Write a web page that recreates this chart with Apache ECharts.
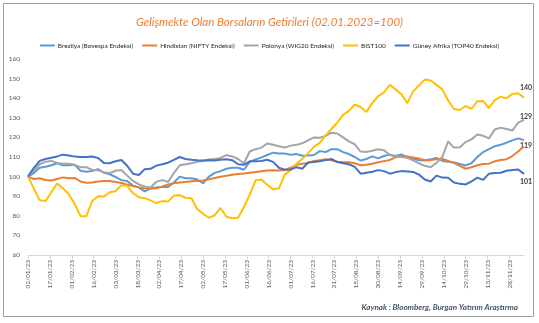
<!DOCTYPE html>
<html>
<head>
<meta charset="utf-8">
<script src="https://cdn.jsdelivr.net/npm/echarts@6/dist/echarts.min.js"></script>
<style>
html,body{margin:0;padding:0;background:#fff;}
#chart{width:539px;height:323px;}
</style>
</head>
<body>
<div id="chart"></div>
<script>
// ---- data ----
const dates = [
'2023-01-02','2023-01-06','2023-01-10','2023-01-14','2023-01-18','2023-01-22','2023-01-26','2023-01-30',
'2023-02-03','2023-02-07','2023-02-11','2023-02-15','2023-02-19','2023-02-23','2023-02-27',
'2023-03-03','2023-03-07','2023-03-11','2023-03-15','2023-03-19','2023-03-23','2023-03-27','2023-03-31',
'2023-04-04','2023-04-08','2023-04-12','2023-04-16','2023-04-20','2023-04-24','2023-04-28',
'2023-05-02','2023-05-06','2023-05-10','2023-05-14','2023-05-18','2023-05-22','2023-05-26','2023-05-30',
'2023-06-03','2023-06-07','2023-06-11','2023-06-15','2023-06-19','2023-06-23','2023-06-27',
'2023-07-01','2023-07-05','2023-07-09','2023-07-13','2023-07-17','2023-07-21','2023-07-25','2023-07-29',
'2023-08-02','2023-08-06','2023-08-10','2023-08-14','2023-08-18','2023-08-22','2023-08-26','2023-08-30',
'2023-09-03','2023-09-07','2023-09-11','2023-09-15','2023-09-19','2023-09-23','2023-09-27',
'2023-10-01','2023-10-05','2023-10-09','2023-10-13','2023-10-17','2023-10-21','2023-10-25','2023-10-29',
'2023-11-02','2023-11-06','2023-11-10','2023-11-14','2023-11-18','2023-11-22','2023-11-26','2023-11-30',
'2023-12-04','2023-12-08'
];

const brezilya = [
100,101.8,104.5,105,105.8,106.8,105.8,105.8,106,103,
102.5,102.8,103.8,102,101.2,99.8,98.2,97.7,95.4,94.5,
92.5,94,94.5,94.7,94.7,97,100,99.2,99.2,98.5,
96.6,100,101.9,102.8,104,104.5,104.5,103.5,107.5,108.7,
109.8,111,112.2,111.8,111.8,111.1,111.5,110.6,110.8,111,
113,112.5,114,114,112.5,111.5,110,108.2,109,110.3,
109.3,110.5,111.2,110.5,111.3,109.8,109.1,108.3,108.2,108.8,
109.5,108,107.6,107.2,106.5,105.7,106.8,110,112.5,114,
115.5,116.2,117.3,118.5,119.5,118.6
];

const hindistan = [
100,98.8,99.2,98.3,98,98.8,99.6,99.2,99.3,97.5,
96.8,97,97.5,97.8,97.8,97.2,96.7,95.8,95.2,94.5,
94,93.8,94,95,96,96.6,97,97.3,97.6,97.8,
98,98.6,99.3,99.9,100.4,100.9,101.3,101.6,102,102.3,
102.7,103.1,103.3,103.1,103.4,104.5,106,106.5,107,108,
108.4,108.8,108.3,107.6,107.4,107.3,106.8,105.8,106.1,106.6,
107.3,107.9,108.5,109.8,110.6,110.2,109.7,109.2,108.4,108.4,
108.9,109,108,107,105.5,104,104.8,105.8,106.4,106.6,
107.8,108.5,108.9,110.5,112.8,115.4
];

const polonya = [
100,103,106.3,107.6,108,107,106.5,106.5,106,104.8,
104.8,103.4,103.3,102.2,101.7,103,103.4,100.5,97.8,96,
95,94.4,97.4,98.2,97.3,101.8,105.8,106.3,106.8,107.6,
108,108.8,109,109.5,111,110.3,109,106.8,112.8,114,
114.8,116.9,116.2,115.5,114.8,115.8,116.2,117,118.5,120,
119.8,120.8,122.4,122,120,118,116.5,112.8,112.6,113.2,
114,113.5,111,110.2,110,109.6,108.3,106.8,105.5,104.8,
107,110,118,114.8,115,117.6,119,121.5,120.8,119.5,
124,125,124.3,123.5,127.5,128.9
];

const bist100 = [
100,94,88,87.5,92,96.5,94,91,86,79.8,
79.8,87.5,90,89.8,92,92.5,95.6,95.3,91.5,89.5,
89,87.9,86.5,87.5,87.3,90.3,90.5,89.2,89,83.5,
81,79,80.3,84,79.5,78.8,79,84.5,90.8,98.2,
98.5,95.8,93.5,94,101,103.3,106.5,109,112,115.2,
117.2,121,124.3,127.5,131.5,133.5,136.8,135.5,133,137.5,
141,143,146.8,144.5,142,137.5,143.5,146.5,149.5,149,
146.8,144.5,138.8,134.5,134,136,134.5,138.5,138.6,135,
139,140.8,140,142.2,142.5,140.3
];

const guneyAfrika = [
100,104.5,108,109,109.6,110.3,111.2,110.8,110.2,110,
110,110.3,109.5,107,106.8,107.8,108.5,105.5,101.5,100.8,
103.8,104,105.6,106.3,107.1,108.5,110,109,108.6,108.3,
108.2,108.4,108.2,108.6,108.8,108.4,106.3,106,107.8,107.8,
108,108.6,107.5,104.5,103.5,103.6,104.8,104,107.2,107.4,
107.8,108.4,109,107.4,106.8,106.3,105,101.5,102,102.5,
103.3,102.8,101.5,102.3,102.8,102.6,102.4,101,98.5,97.5,
100.5,99.5,99.4,97,96.3,96,97.5,99.5,98.3,101.5,
101.8,102,103,103.4,103.6,101.4
];

const tickLabels = ['02/01/23','17/01/23','01/02/23','16/02/23','03/03/23','18/03/23','02/04/23',
'17/04/23','02/05/23','17/05/23','01/06/23','16/06/23','01/07/23','16/07/23','31/07/23','15/08/23',
'30/08/23','14/09/23','29/09/23','14/10/23','29/10/23','13/11/23','28/11/23'];

const seriesNames = ['Brezilya (Bovespa Endeksi)','Hindistan (NIFTY Endeksi)','Polonya (WIG20 Endeksi)','BIST100','Güney Afrika (TOP40 Endeksi)'];
const seriesColors = ['#5B9BD5','#ED7D31','#A5A5A5','#FFC000','#4472C4'];

// ---- build ----
const t0 = Date.UTC(2023,0,2);
function dayOffset(s){ const p = s.split('-').map(Number); return (Date.UTC(p[0],p[1]-1,p[2]) - t0)/86400000; }
const xs = dates.map(dayOffset);
function pairs(vals){ return vals.map((v,i)=>[xs[i], v]); }

const FONT = 'Lato, "Liberation Sans", sans-serif';
const endLab = (show, dy) => show ? {
  show:true, position:'right', distance:0, offset:[-4, dy],
  formatter: p => Math.round(p.value[1]),
  fontSize:7, fontWeight:'bold', color:'#404040', fontFamily:FONT
} : {show:false};

const allVals = [brezilya, hindistan, polonya, bist100, guneyAfrika];
const endOffsets = [6, null, -3.5, -10, 7.5];

const series = allVals.map((vals, i) => ({
  name: seriesNames[i],
  type: 'line',
  data: pairs(vals),
  showSymbol: false,
  symbol: 'none',
  lineStyle: {width: 2, color: seriesColors[i]},
  itemStyle: {color: seriesColors[i]},
  endLabel: endLab(endOffsets[i] !== null, endOffsets[i] || 0),
  z: 2 + i
}));

const chart = echarts.init(document.getElementById('chart'), null, {renderer:'canvas'});
chart.setOption({
  animation: false,
  backgroundColor: '#fff',
  title: {
    text: 'Gelişmekte Olan Borsaların Getirileri (02.01.2023=100)',
    left: 'center', top: 11,
    textStyle: {fontFamily: FONT, fontStyle: 'italic', fontWeight: 'normal', fontSize: 11.5, color: '#ED7D31'}
  },
  legend: {
    top: 37, left: 'center',
    icon: 'rect', itemWidth: 15, itemHeight: 2, itemGap: 9,
    textStyle: {fontFamily: FONT, fontSize: 6.5, color: '#262626', padding:[0,0,0,-2]},
    data: seriesNames
  },
  grid: {left: 28, right: 15, top: 59, bottom: 68},
  xAxis: {
    type: 'value', min: 0, max: 340, interval: 15,
    axisLine: {show: true, lineStyle: {color: '#d9d9d9', width: 1}},
    axisTick: {show: true, length: 4, lineStyle: {color: '#d9d9d9'}},
    splitLine: {show: false},
    axisLabel: {
      rotate: 90, fontSize: 6.5, color: '#595959', fontFamily: FONT, margin: 5,
      showMaxLabel: false,
      formatter: v => { const k = Math.round(v/15); return (k*15 === v && tickLabels[k]) ? tickLabels[k] : ''; }
    }
  },
  yAxis: {
    type: 'value', min: 60, max: 160, interval: 10,
    axisLine: {show: false}, axisTick: {show: false}, splitLine: {show: false},
    axisLabel: {fontSize: 6.5, color: '#595959', fontFamily: FONT, margin: 8}
  },
  graphic: [
    {type: 'rect', shape: {x: 3.5, y: 3.5, width: 530, height: 313},
     style: {fill: 'none', stroke: '#a0a0a0', lineWidth: 1}, z: 100, silent: true},
    {type: 'text', right: 21, top: 303,
     style: {text: 'Kaynak : Bloomberg, Burgan Yatırım Araştırma', font: 'italic bold 8px ' + FONT, fill: '#44546A'}}
  ],
  series: series
});
</script>
</body>
</html>
